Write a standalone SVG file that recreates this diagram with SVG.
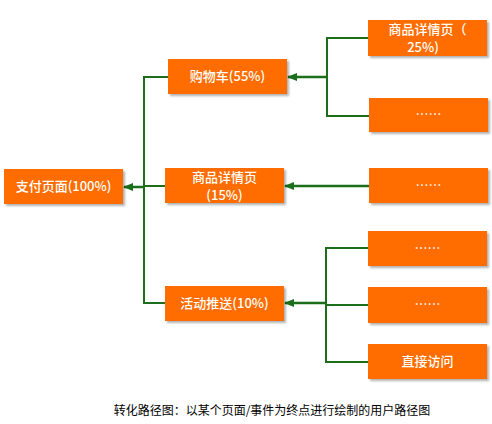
<svg xmlns="http://www.w3.org/2000/svg" width="492" height="424" viewBox="0 0 492 424">
<style>
.box{fill:#FF6C00;filter:url(#sh)}
.t{fill:#fff;font-family:"Noto Sans CJK SC","Liberation Sans",sans-serif;font-size:13px;font-weight:500;text-anchor:middle}
.ln{stroke:#1b6f1b;stroke-width:2;fill:none}
.ar{stroke:#1b6f1b;stroke-width:2.5;fill:none;marker-end:url(#ah)}
.cap{fill:#000;font-family:"Noto Sans CJK SC","Liberation Sans",sans-serif;font-size:12px;text-anchor:middle}
</style>
<defs>
<filter id="sh" x="-10%" y="-20%" width="130%" height="150%">
<feDropShadow dx="2" dy="2" stdDeviation="1" flood-color="#000" flood-opacity="0.3"/>
</filter>
<marker id="ah" viewBox="0 0 10 10" refX="9" refY="5" markerWidth="4" markerHeight="4" orient="auto" markerUnits="strokeWidth">
<path d="M0,1 L10,5 L0,9 Z" fill="#1b6f1b"/>
</marker>
</defs>
<g id="connectors">
<path class="ln" d="M168,77 H144 V303 H165"/>
<path class="ln" d="M165,186 H144"/>
<path class="ar" d="M144,187 H124"/>
<path class="ln" d="M368,38 H327 V116 H369"/>
<path class="ar" d="M327,77 H288"/>
<path class="ar" d="M369,186 H285"/>
<path class="ln" d="M368,248 H326 V362 H368"/>
<path class="ln" d="M368,305 H326"/>
<path class="ar" d="M326,303 H285"/>
</g>
<g id="root"><rect class="box" x="4" y="169" width="119" height="35"/><text class="t" x="63.5" y="191">支付页面(100%)</text></g>
<g id="cart"><rect class="box" x="168" y="59" width="119" height="35"/><text class="t" x="227.5" y="81">购物车(55%)</text></g>
<g id="detail15"><rect class="box" x="165" y="168" width="119" height="35"/><text class="t" x="224.5" y="182">商品详情页</text><text class="t" x="224.5" y="200">(15%)</text></g>
<g id="push"><rect class="box" x="165" y="286" width="119" height="35"/><text class="t" x="224.5" y="308">活动推送(10%)</text></g>
<g id="detail25"><rect class="box" x="368" y="20" width="119" height="36"/><text class="t" x="427.5" y="34">商品详情页（</text><text class="t" x="423" y="52">25%)</text></g>
<g id="dots1"><rect class="box" x="369" y="98" width="119" height="34"/><text class="t" x="428.5" y="119">……</text></g>
<g id="dots2"><rect class="box" x="369" y="168" width="119" height="35"/><text class="t" x="428.5" y="190">……</text></g>
<g id="dots3"><rect class="box" x="368" y="231" width="119" height="35"/><text class="t" x="427.5" y="253">……</text></g>
<g id="dots4"><rect class="box" x="368" y="287" width="119" height="36"/><text class="t" x="427.5" y="309">……</text></g>
<g id="direct"><rect class="box" x="368" y="344" width="119" height="35"/><text class="t" x="427.5" y="366">直接访问</text></g>
<text class="cap" x="272" y="415">转化路径图：以某个页面/事件为终点进行绘制的用户路径图</text>
</svg>
